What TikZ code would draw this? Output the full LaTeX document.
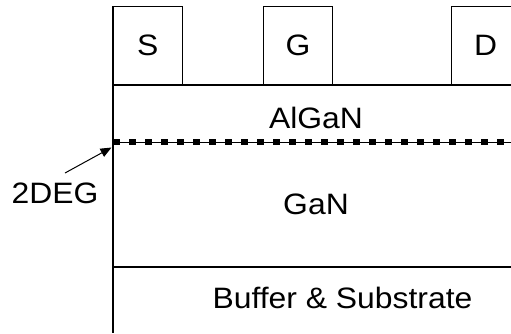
\documentclass[tikz,border=0pt]{standalone}
\usepackage{fontspec}
\setmainfont[FakeStretch=1.08]{Liberation Sans}
\usetikzlibrary{arrows.meta}
\begin{document}
\begin{tikzpicture}[x=1pt,y=-1pt,
  contact/.style={draw, line width=1pt, minimum width=69pt, minimum height=79pt, inner sep=0pt, font=\fontsize{29.5}{35}\selectfont},
  lbl/.style={inner sep=0pt, font=\fontsize{29.5}{35}\selectfont},
  edge/.style={line width=1.2pt},
  gasline/.style={line width=6.5pt, dash pattern=on 6.5pt off 9.5pt},
  ptr/.style={line width=1pt, -{Triangle[length=11pt,width=9pt]}}
]
\useasboundingbox (0,0) rectangle (511,333);
\clip (0,0) rectangle (511,333);
% contacts
\node[contact] (S) at (147.75,45.5) {S};
\node[contact] (G) at (298,45.5) {G};
\node[contact] (D) at (485.5,45.5) {D};
% layer outlines
\coordinate (tl) at (113,6);
\coordinate (bl) at (113,333);
\coordinate (a1) at (113,85);
\coordinate (a2) at (511,85);
\coordinate (g1) at (113,142);
\coordinate (g2) at (511,142);
\coordinate (b1) at (113,267);
\coordinate (b2) at (511,267);
\draw[edge] (tl) -- (bl);
\draw[edge] (a1) -- (a2);
\draw[edge] (b1) -- (b2);
\draw[line width=1pt] (g1) -- (g2);
\draw[gasline] (g1) -- (g2);
% layer labels
\node[lbl] (algan) at (316,118) {AlGaN};
\node[lbl] (gan) at (316,204) {GaN};
\node[lbl] (buf) at (342.5,297.5) {Buffer \& Substrate};
% 2DEG label and pointer
\node[lbl] (deg) at (55,193) {2DEG};
\coordinate (tail) at (65,173);
\coordinate (tip) at (111.5,147.5);
\draw[ptr] (tail) -- (tip);
\end{tikzpicture}
\end{document}
